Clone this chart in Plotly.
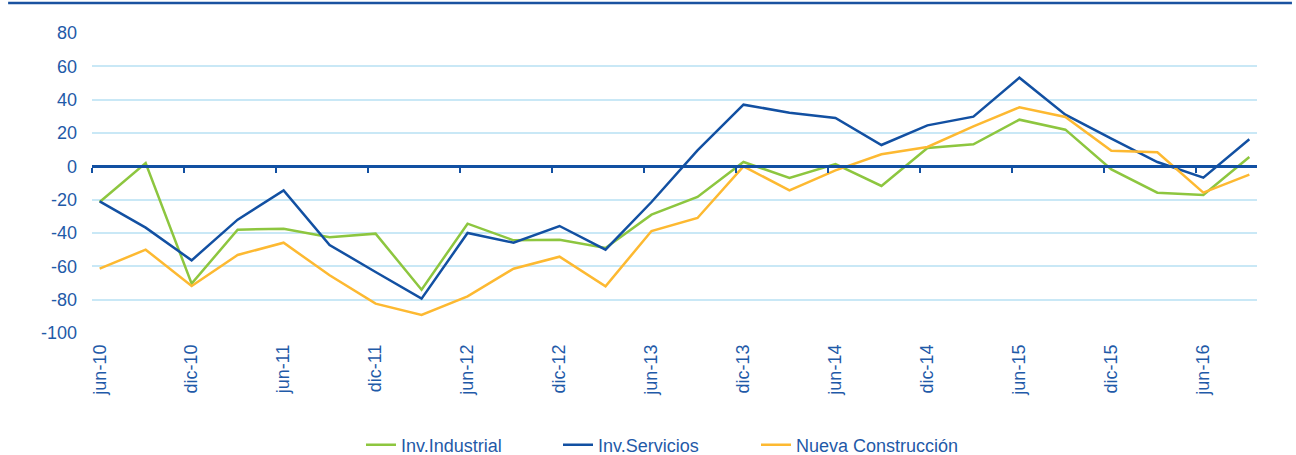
import plotly.graph_objects as go

# Quarterly periods jun-10 .. sep-16
periods = ["jun-10", "sep-10", "dic-10", "mar-11", "jun-11", "sep-11", "dic-11", "mar-12",
           "jun-12", "sep-12", "dic-12", "mar-13", "jun-13", "sep-13", "dic-13", "mar-14",
           "jun-14", "sep-14", "dic-14", "mar-15", "jun-15", "sep-15", "dic-15", "mar-16",
           "jun-16", "sep-16"]

inv_industrial = [-21.4, 2.0, -70.4, -38.0, -37.4, -42.6, -40.4, -74.0,
                  -34.4, -44.4, -44.0, -49.0, -29.0, -18.4, 2.6, -7.0,
                  1.4, -11.8, 11.0, 13.2, 28.0, 22.0, -1.8, -15.8,
                  -17.2, 5.6]
inv_servicios = [-21.0, -36.8, -56.4, -32.0, -14.4, -47.2, -63.4, -79.4,
                 -40.0, -45.8, -35.8, -50.0, -21.4, 9.6, 37.0, 32.2,
                 29.0, 12.8, 24.6, 29.8, 53.2, 31.0, 16.6, 2.6,
                 -6.8, 16.2]
nueva_construccion = [-61.4, -50.0, -71.8, -53.2, -45.8, -65.4, -82.4, -89.2,
                      -78.0, -61.4, -54.2, -72.0, -38.8, -31.0, 0.0, -14.4,
                      -2.4, 7.2, 11.6, 24.0, 35.4, 29.6, 9.4, 8.4,
                      -15.8, -5.0]

y_ticks = [80, 60, 40, 20, 0, -20, -40, -60, -80, -100]
y_tick_text = ["80", "60", "40", "20", "0", "-20", "-40", "-60", "-80", "-100"]

series_names = ["Inv.Industrial", "Inv.Servicios", "Nueva Construcción"]
series_colors = ["#8DC63F", "#1250A2", "#FDB931"]
legend_ids = ["legend", "legend2", "legend3"]
legend_left_px = [361, 558, 756]

# Date-style axis in months: each quarter point sits mid-month
x_pos = [3 * i + 0.5 for i in range(len(periods))]
label_idx = list(range(0, len(periods), 2))
tick_vals = [x_pos[i] for i in label_idx]
tick_text = [periods[i] for i in label_idx]
tick_marks = [3 * i for i in label_idx]

TXT = "#1F5AA8"
FONT = "Liberation Sans, Arial, sans-serif"
W, H = 1296, 455

fig = go.Figure()
for name, vals, col, lg in zip(series_names,
                               [inv_industrial, inv_servicios, nueva_construccion],
                               series_colors, legend_ids):
    fig.add_trace(go.Scatter(x=x_pos, y=vals, name=name, mode="lines", legend=lg,
                             line=dict(color=col, width=2.5)))

# dummy trace for the zero-line axis with tick marks
fig.add_trace(go.Scatter(x=[], y=[], xaxis="x2", showlegend=False, hoverinfo="skip"))

legend_common = dict(orientation="h", xref="container", yref="container",
                     y=0.022, xanchor="left", yanchor="middle",
                     font=dict(size=18, color=TXT), bgcolor="rgba(0,0,0,0)")

fig.update_layout(
    width=W, height=H,
    margin=dict(l=92, r=39, t=33, b=122),
    paper_bgcolor="white", plot_bgcolor="white",
    font=dict(family=FONT, size=18, color=TXT),
    showlegend=True,
    legend=dict(x=legend_left_px[0] / W, **legend_common),
    legend2=dict(x=legend_left_px[1] / W, **legend_common),
    legend3=dict(x=legend_left_px[2] / W, **legend_common),
    xaxis=dict(range=[0, 76], tickmode="array", tickvals=tick_vals, ticktext=tick_text,
               tickangle=-90, showgrid=False, zeroline=False, showline=False,
               ticks="", ticklabelstandoff=7, tickfont=dict(size=18, color=TXT)),
    xaxis2=dict(range=[0, 76], overlaying="x", anchor="free", position=100 / 180,
                tickmode="array", tickvals=tick_marks, ticks="outside", ticklen=5,
                tickwidth=2, tickcolor="#1250A2", showticklabels=False,
                showline=True, linecolor="#1250A2", linewidth=2.5,
                showgrid=False, zeroline=False),
    yaxis=dict(range=[-100, 80], tickmode="array", tickvals=y_ticks, ticktext=y_tick_text,
               showgrid=True, gridcolor="#C9E8F6",
               gridwidth=1.5, zeroline=False, showline=False, ticks="",
               ticklabelstandoff=14, tickfont=dict(size=18, color=TXT)),
    shapes=[dict(type="line", xref="paper", yref="paper",
                 x0=-0.072, x1=1.03, y0=1.1, y1=1.1,
                 line=dict(color="#1A52A0", width=2.5))],
)

fig.write_html("out.html", config={"displayModeBar": False},
               post_script="document.body.style.margin='0';")
